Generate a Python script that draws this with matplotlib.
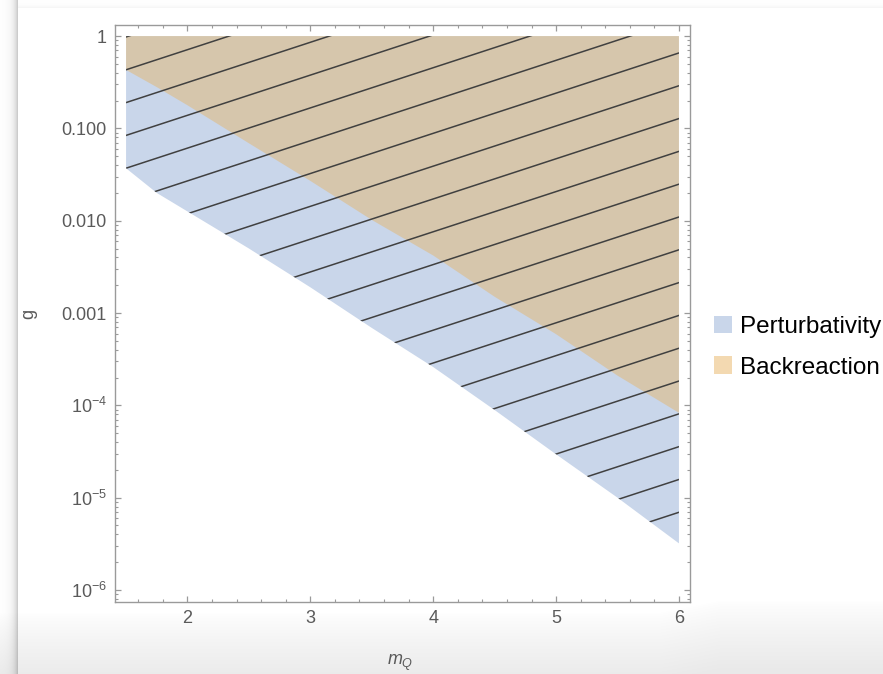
import numpy as np
import matplotlib
matplotlib.use("Agg")
import matplotlib.pyplot as plt
from matplotlib.patches import Patch
from matplotlib.ticker import FixedLocator, FixedFormatter, NullFormatter

plt.rcParams['font.family'] = ['Liberation Sans', 'DejaVu Sans']
plt.rcParams['mathtext.fontset'] = 'custom'
plt.rcParams['mathtext.rm'] = 'Liberation Sans'
plt.rcParams['mathtext.it'] = 'Liberation Sans:italic'

# --- boundaries of the constrained regions ---
mQ = [1.5, 1.75, 2.0, 2.5, 3.0, 3.5, 4.0, 4.5, 5.0, 5.5, 6.0]
# perturbativity bound (lower edge of blue region)
g_pert = [3.7e-2, 2.0e-2, 1.26e-2, 5.0e-3, 1.9e-3, 6.9e-4, 2.6e-4,
          8.9e-5, 2.95e-5, 1.0e-5, 3.2e-6]
# backreaction bound (lower edge of tan region)
g_back = [0.43, 0.28, 0.178, 0.069, 0.027, 0.0102, 4.2e-3,
          1.5e-3, 5.9e-4, 2.1e-4, 8.3e-5]
g_top = 1.0

yticks = [1e-6, 1e-5, 1e-4, 1e-3, 1e-2, 1e-1, 1]
ylabels = [r'$10^{-6}$', r'$10^{-5}$', r'$10^{-4}$', '0.001', '0.010', '0.100', '1']
xticks = [2, 3, 4, 5, 6]

blue = '#c9d6ea'
orange = '#e7b361'
grey_txt = '#5a5a5a'
grey_axis = '#9a9a9a'

W, H = 883, 674
fig = plt.figure(figsize=(W / 100, H / 100), dpi=100)

# screenshot-like backdrop: shadow at left, grey fade at the bottom
bg = fig.add_axes([0, 0, 1, 1], zorder=-5)
xx = np.arange(W)[None, :]
yy = np.arange(H)[:, None]
shade = np.ones((H, W))
left = np.where(xx < 18, 1 - 0.20 * np.exp(-(17 - xx) / 4.0), 1.0)
top = np.where((yy < 8) & (xx >= 18), 1 - 0.035 * np.exp(-(7 - yy) / 2.0), 1.0)
start = 612 - 12 * np.clip((xx - 660) / 60.0, 0, 1)
bottom = np.where(yy > start, 1 - 0.085 * np.clip((yy - start) / 70.0, 0, 1) ** 0.8, 1.0)
shade = shade * left * top * bottom
bg.imshow(np.dstack([shade] * 3), aspect='auto', extent=(0, W, H, 0))
bg.set_axis_off()

ax = fig.add_axes([115 / W, 1 - 602 / H, 575 / W, 577 / H])
ax.set_yscale('log')
ax.set_xlim(1.41, 6.09)
ax.set_ylim(10 ** -6.13, 10 ** 0.12)

pert = ax.fill_between(mQ, g_pert, g_top, facecolor=blue, edgecolor='none',
                       label='Perturbativity', zorder=1)
back = ax.fill_between(mQ, g_back, g_top, facecolor=orange, alpha=0.45,
                       edgecolor='none', label='Backreaction', zorder=2)

# hatching: straight lines in (mQ, log g), clipped to the excluded area
clip = pert.get_paths()[0]
slope, step, x0, y0 = 0.4354, 0.3554, 1.5, -0.365
xs = np.array([1.5, 6.0])
for k in range(-24, 3):
    ys = 10 ** (y0 + slope * (xs - x0) + step * k)
    ln, = ax.plot(xs, ys, color='#404040', lw=1.1, zorder=3)
    ln.set_clip_path(clip, transform=ax.transData)

# axes styling
for s in ax.spines.values():
    s.set_color(grey_axis)
    s.set_linewidth(1.0)
ax.xaxis.set_major_locator(FixedLocator(xticks))
ax.xaxis.set_minor_locator(FixedLocator(np.arange(1.6, 6.05, 0.2)))
ax.yaxis.set_major_locator(FixedLocator(yticks))
ax.yaxis.set_major_formatter(FixedFormatter(ylabels))
minor_y = [m * 10.0 ** e for e in range(-7, 1) for m in range(2, 10)]
ax.yaxis.set_minor_locator(FixedLocator(minor_y))
ax.yaxis.set_minor_formatter(NullFormatter())
ax.tick_params(which='both', direction='in', top=True, right=True,
               color=grey_axis, labelcolor=grey_txt, labelsize=13)
ax.tick_params(which='major', length=4.5, width=0.9, pad=6)
ax.tick_params(which='minor', length=2.3, width=0.8)

ax.set_xlabel(r'$m_Q$', color=grey_txt, fontsize=13)
ax.xaxis.set_label_coords(0.496, -0.088)
ax.set_ylabel('g', color=grey_txt, fontsize=13)
ax.yaxis.set_label_coords(-0.136, 0.5)

handles = [Patch(facecolor=blue, edgecolor='none', label='Perturbativity'),
           Patch(facecolor='#f3d9b1', edgecolor='none', label='Backreaction')]
fig.legend(handles=handles, loc='upper left', bbox_to_anchor=(714 / W, 1 - 316 / H),
           frameon=False, fontsize=17.5, handlelength=0.72, handleheight=0.72,
           handletextpad=0.33, labelspacing=0.75, borderpad=0, borderaxespad=0)

fig.savefig('out.png', dpi=100)
